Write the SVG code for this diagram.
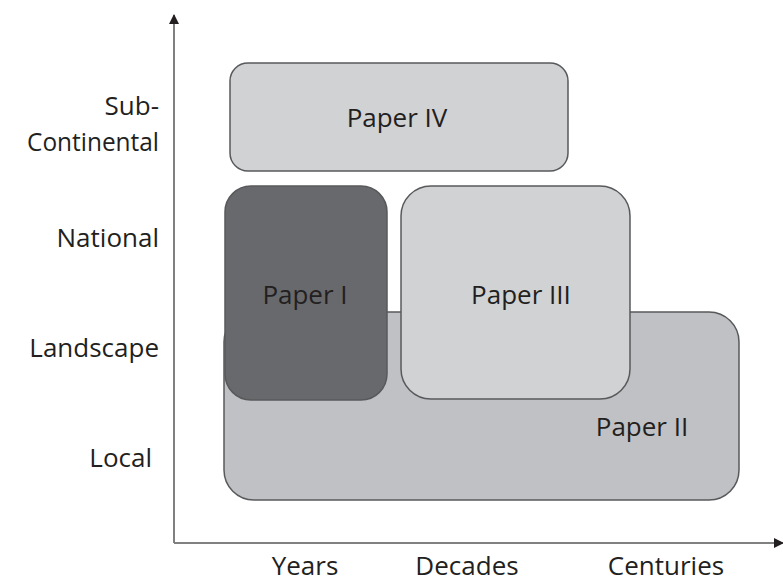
<svg xmlns="http://www.w3.org/2000/svg" width="783" height="584" viewBox="0 0 783 584">
<style>
text{font-family:"Open Sans",Lato,"Liberation Sans",sans-serif;font-size:26px;fill:#231f20}
.box{stroke:#58595b;stroke-width:1.5}
.ax{stroke:#808080;stroke-width:2;fill:none}
.r{text-anchor:end}
.c{text-anchor:middle}
</style>
<defs>
<marker id="arr" viewBox="0 0 10 10" refX="9" refY="5" markerWidth="10" markerHeight="10" markerUnits="userSpaceOnUse" orient="auto">
<path d="M0,0 L10,5 L0,10 Z" fill="#231f20"/>
</marker>
</defs>
<rect width="783" height="584" fill="#fff"/>
<g id="axes">
<line class="ax" x1="174" y1="543" x2="174" y2="15" marker-end="url(#arr)"/>
<line class="ax" x1="174" y1="543" x2="783" y2="543" marker-end="url(#arr)"/>
</g>
<g id="paper2"><rect class="box" x="224" y="312" width="515" height="188" rx="30" fill="#c0c1c4"/><text class="c" x="642" y="436">Paper II</text></g>
<g id="paper4"><rect class="box" x="230" y="63" width="338" height="108" rx="18" fill="#d1d2d4"/><text class="c" x="397" y="127">Paper IV</text></g>
<g id="paper1"><rect class="box" x="225" y="186" width="162" height="214" rx="26" fill="#68696d"/><text class="c" x="305" y="304">Paper I</text></g>
<g id="paper3"><rect class="box" x="401" y="186" width="229" height="213" rx="30" fill="#d1d2d4"/><text class="c" x="521" y="304">Paper III</text></g>
<g id="ylabels">
<text class="r" x="159" y="115">Sub-</text>
<text class="r" x="159" y="151" textLength="132" lengthAdjust="spacingAndGlyphs">Continental</text>
<text class="r" x="159" y="247">National</text>
<text class="r" x="159" y="357">Landscape</text>
<text class="r" x="152" y="467">Local</text>
</g>
<g id="xlabels">
<text class="c" x="305" y="575">Years</text>
<text class="c" x="467" y="575">Decades</text>
<text class="c" x="666" y="575">Centuries</text>
</g>
</svg>
